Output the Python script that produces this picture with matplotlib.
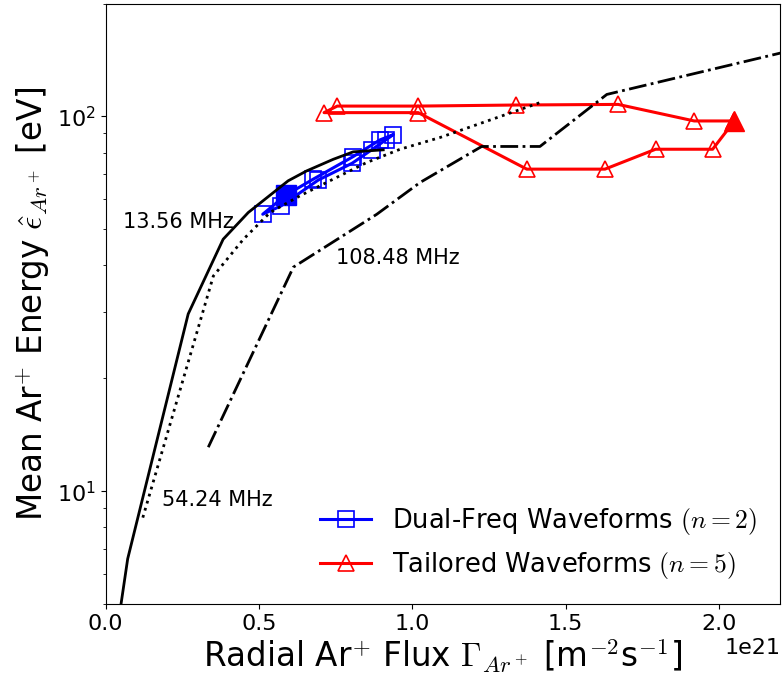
import matplotlib
matplotlib.use("Agg")
import matplotlib.pyplot as plt
from matplotlib.ticker import MultipleLocator

plt.rcParams['mathtext.fontset'] = 'cm'
plt.rcParams['font.family'] = ['DejaVu Sans']

SCALE = 1e21

# 13.56 MHz single-frequency reference (solid)
f13_x = [0.050, 0.0717, 0.269, 0.383, 0.465, 0.595, 0.655, 0.742, 0.807, 0.905]
f13_y = [5.0, 6.6, 29.7, 47.0, 55.4, 67.3, 71.5, 76.8, 80.4, 81.4]

# 54.24 MHz single-frequency reference (dotted)
f54_x = [0.121, 0.351, 0.449, 0.536, 0.634, 0.742, 0.851, 0.960, 1.090, 1.416]
f54_y = [8.5, 37.5, 47.0, 55.4, 61.4, 68.0, 75.3, 81.7, 87.8, 108.8]

# 108.48 MHz single-frequency reference (dash-dot)
f108_x = [0.3345, 0.612, 0.884, 1.025, 1.226, 1.416, 1.634, 2.20]
f108_y = [13.1, 39.6, 54.8, 66.6, 83.1, 83.1, 114.4, 147.5]

# Dual-frequency waveforms (n=2), first point is the filled marker
dual_x = [0.587, 0.677, 0.807, 0.894, 0.938, 0.913, 0.867, 0.804, 0.693, 0.572, 0.512, 0.587]
dual_y = [61.6, 68.0, 78.1, 86.5, 89.4, 86.5, 81.4, 75.0, 67.6, 57.7, 54.8, 61.6]

# Tailored waveforms (n=5), first point is the filled marker
tail_x = [2.050, 1.919, 1.671, 1.338, 1.019, 0.755, 0.712, 1.019, 1.373, 1.628, 1.793, 1.979, 2.050]
tail_y = [97.2, 97.2, 107.6, 107.2, 106.5, 106.5, 102.3, 102.3, 72.3, 72.3, 81.7, 81.7, 97.2]

labels_freq = ["13.56 MHz", "54.24 MHz", "108.48 MHz"]
label_pos_x = [0.055, 0.183, 0.751]
label_pos_y = [52.2, 9.46, 41.8]

fig = plt.figure(figsize=(7.82, 6.81), dpi=100)
W, H = 782, 681
ax = fig.add_axes([105.7 / W, 1 - 604 / H, (780.4 - 105.7) / W, (604 - 3.5) / H])

sx = lambda v: [a * SCALE for a in v]

ax.plot(sx(dual_x), dual_y, color='blue', lw=2.2, marker='s', ms=11,
        mfc='none', mec='blue', mew=1.2,
        label=r"Dual-Freq Waveforms $(n=2)$", zorder=3)
ax.plot(sx(dual_x[:1]), dual_y[:1], color='blue', marker='s', ms=14,
        ls='none', zorder=3)

ax.plot(sx(tail_x), tail_y, color='red', lw=2.2, marker='^', ms=12,
        mfc='none', mec='red', mew=1.2,
        label=r"Tailored Waveforms $(n=5)$", zorder=3)
ax.plot(sx(tail_x[:1]), tail_y[:1], color='red', marker='^', ms=14,
        ls='none', zorder=3)

ax.plot(sx(f13_x), f13_y, color='black', lw=2, ls='-', zorder=4)
ax.plot(sx(f54_x), f54_y, color='black', lw=2, ls=':', zorder=4)
ax.plot(sx(f108_x), f108_y, color='black', lw=2, ls='-.', zorder=4)

for t, px, py in zip(labels_freq, label_pos_x, label_pos_y):
    ax.text(px * SCALE, py, t, fontsize=15, ha='left', va='center')

ax.set_yscale('log')
ax.set_xlim(0, 2.2 * SCALE)
ax.set_ylim(5, 200)
ax.xaxis.set_major_locator(MultipleLocator(0.5 * SCALE))
ax.tick_params(labelsize=16)
ax.xaxis.get_offset_text().set_fontsize(16)

ax.set_xlabel(r"Radial Ar$^{+}$ Flux $\Gamma_{Ar^+}$ [m$^{-2}$s$^{-1}$]",
              fontsize=23.5, labelpad=2)
ax.set_ylabel(r"Mean Ar$^{+}$ Energy $\hat{\epsilon}_{Ar^+}$ [eV]", fontsize=23.5)

ax.legend(loc='lower right', frameon=False, fontsize=18.5)

fig.savefig("out.png", dpi=100)
